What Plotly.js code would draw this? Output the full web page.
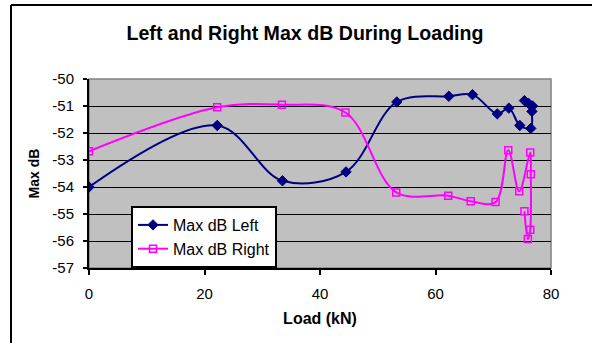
<!DOCTYPE html>
<html>
<head>
<meta charset="utf-8">
<script src="https://cdn.plot.ly/plotly-3.0.1.min.js"></script>
<style>
  html, body { margin: 0; padding: 0; background: #ffffff; }
  #chart { width: 592px; height: 343px; }
</style>
</head>
<body>
<div id="chart"></div>
<script>
// Load steps (kN) and peak levels (dB) for each channel
const loadLeft  = [0, 22.2, 33.5, 44.5, 53.3, 62.3, 66.4, 70.7, 72.7, 74.6, 76.5, 76.7, 76.8, 76.1, 75.4];
const maxDbLeft = [-54.0, -51.72, -53.77, -53.44, -50.85, -50.64, -50.58, -51.29, -51.08, -51.72, -51.83, -51.2, -51.0, -50.9, -50.8];

const loadRight  = [0, 22.2, 33.4, 44.4, 53.2, 62.2, 66.1, 70.4, 72.6, 74.5, 76.4, 76.5, 76.4, 76.0, 75.4];
const maxDbRight = [-52.68, -51.05, -50.95, -51.24, -54.2, -54.32, -54.53, -54.56, -52.64, -54.16, -52.72, -53.53, -55.58, -55.93, -54.9];

const seriesNames = ['Max dB Left', 'Max dB Right'];
const xTicks = [0, 20, 40, 60, 80];
const yTicks = [-57, -56, -55, -54, -53, -52, -51, -50];

const FONT = 'Arial, "Liberation Sans", sans-serif';

// plot area in pixels
const W = 592, H = 343;
const M = { l: 89, r: 41, t: 79, b: 75 };
const pw = W - M.l - M.r, ph = H - M.t - M.b;
const px = v => (v - M.l) / pw;          // pixel x -> paper x
const py = v => (H - M.b - v) / ph;      // pixel y -> paper y

const traces = [
  {
    x: loadLeft, y: maxDbLeft, name: seriesNames[0],
    type: 'scatter', mode: 'lines+markers',
    line: { color: '#000080', width: 2, shape: 'spline', smoothing: 1 },
    marker: { symbol: 'diamond', size: 8, color: '#000080', line: { color: '#000080', width: 1 } }
  },
  {
    x: loadRight, y: maxDbRight, name: seriesNames[1],
    type: 'scatter', mode: 'lines+markers',
    line: { color: '#FF00FF', width: 2, shape: 'spline', smoothing: 1 },
    marker: { symbol: 'square-open', size: 7, color: '#FF00FF', line: { color: '#FF00FF', width: 1.5 } }
  }
];

const layout = {
  width: W, height: H,
  margin: M,
  paper_bgcolor: '#ffffff',
  plot_bgcolor: '#C0C0C0',
  font: { family: FONT, color: '#000000', size: 15 },
  title: {
    text: '<b>Left and Right Max dB During Loading</b>',
    font: { family: FONT, size: 19.6, color: '#000000' },
    xref: 'container', x: 305 / W, xanchor: 'center',
    yref: 'container', y: 1 - 33 / H, yanchor: 'middle'
  },
  xaxis: {
    range: [0, 80],
    tickvals: xTicks, ticktext: xTicks.map(String),
    showgrid: false, zeroline: false,
    showline: true, linecolor: '#000000', linewidth: 2,
    ticks: 'outside', ticklen: 5, tickwidth: 2, tickcolor: '#000000',
    ticklabelstandoff: 6,
    tickfont: { family: FONT, size: 15, color: '#000000' },
    title: { text: '<b>Load (kN)</b>', font: { family: FONT, size: 16, color: '#000000' }, standoff: 12 }
  },
  yaxis: {
    range: [-57, -50],
    tickvals: yTicks, ticktext: yTicks.map(String),
    showgrid: true, gridcolor: '#000000', gridwidth: 1,
    zeroline: false,
    showline: true, linecolor: '#000000', linewidth: 2,
    ticks: 'outside', ticklen: 4, tickwidth: 2, tickcolor: '#000000',
    ticklabelstandoff: 6,
    tickfont: { family: FONT, size: 15, color: '#000000' },
    title: { text: '<b>Max dB</b>', font: { family: FONT, size: 14, color: '#000000' }, standoff: 9 }
  },
  legend: {
    x: px(131), xanchor: 'left',
    y: py(206), yanchor: 'top',
    bgcolor: '#ffffff', bordercolor: '#000000', borderwidth: 2,
    font: { family: FONT, size: 16, color: '#000000' },
    itemwidth: 30
  },
  shapes: [
    // plot area border
    { type: 'rect', xref: 'paper', yref: 'paper', x0: 0, x1: 1, y0: 0, y1: 1,
      line: { color: '#808080', width: 1.5 }, layer: 'below' },
    // chart frame
    { type: 'line', xref: 'paper', yref: 'paper', x0: px(11), x1: px(11), y0: py(5), y1: py(360),
      line: { color: '#000000', width: 2 } },
    { type: 'line', xref: 'paper', yref: 'paper', x0: px(11), x1: px(620), y0: py(5), y1: py(5),
      line: { color: '#000000', width: 2 } }
  ]
};

Plotly.newPlot('chart', traces, layout, { displayModeBar: false, staticPlot: true });
</script>
</body>
</html>
